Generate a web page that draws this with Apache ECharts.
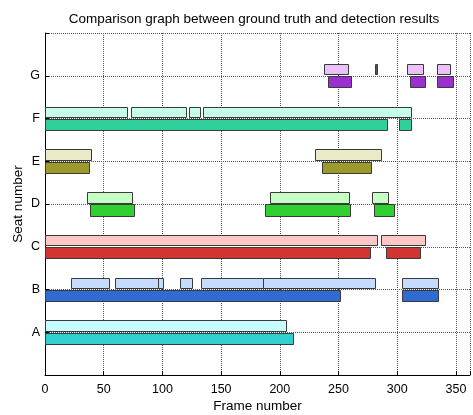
<!DOCTYPE html>
<html>
<head>
<meta charset="utf-8">
<script src="https://cdn.jsdelivr.net/npm/echarts@6/dist/echarts.min.js"></script>
<style>
  html, body { margin: 0; padding: 0; background: #fff; }
  #chart { width: 473px; height: 415px; }
</style>
</head>
<body>
<div id="chart"></div>
<script>
const seats = ['A', 'B', 'C', 'D', 'E', 'F', 'G'];
const xTicks = [0, 50, 100, 150, 200, 250, 300, 350];

// [seat index (A=1), start frame, end frame]
const groundTruth = [
  [1, 0, 205.7],
  [2, 21.9, 54.3], [2, 60, 96.3], [2, 96.3, 100.3], [2, 115, 125.6], [2, 132.5, 185.3], [2, 185.3, 281.3], [2, 304.3, 334.5],
  [3, 0, 282.5], [3, 286.2, 323.4],
  [4, 35.8, 74.5], [4, 191.8, 258.6], [4, 278.5, 292.4],
  [5, 0, 39], [5, 229.7, 286.4],
  [6, 0, 70.2], [6, 73.3, 120.5], [6, 122.5, 131.6], [6, 134.7, 311.4],
  [7, 237.8, 258.3], [7, 281, 282.5], [7, 308.6, 321.7], [7, 334.2, 344.8]
];

const detection = [
  [1, 0, 210.9],
  [2, 0, 251.2], [2, 304.3, 334.5],
  [3, 0, 276.5], [3, 290.4, 319.7],
  [4, 38.7, 76.2], [4, 187.5, 259.5], [4, 280, 297.3],
  [5, 0, 37.8], [5, 235.6, 277.4],
  [6, 0, 291], [6, 301.5, 311.4],
  [7, 241.3, 260.3], [7, 311.2, 323.4], [7, 334.2, 347.3]
];

const lightColors = ['#c6ffff', '#c6dcff', '#ffc6c6', '#c6ffc6', '#ebeac6', '#c6ffe8', '#ebc2f7'];
const darkColors = ['#2fd0d0', '#2f6bd0', '#d0352f', '#2fd02f', '#9b9a2a', '#2fd09b', '#9b2fd0'];

function makeRender(colors, top, bottom) {
  return function (params, api) {
    const seat = api.value(0);
    const p1 = api.coord([api.value(1), seat + top]);
    const p2 = api.coord([api.value(2), seat + bottom]);
    const w = Math.round(p2[0]) - Math.round(p1[0]);
    // very short segments come out as a solid dark stroke in the original
    const fill = w <= 3 ? '#555' : colors[seat - 1];
    return {
      type: 'rect',
      shape: {
        x: Math.round(p1[0]) + 0.5,
        y: Math.round(p1[1]) + 0.5,
        width: w,
        height: Math.round(p2[1]) - Math.round(p1[1])
      },
      style: { fill: fill, stroke: '#3a3a3a', lineWidth: 1 }
    };
  };
}

const font = 'Liberation Sans, Arial, sans-serif';
const dotted = { type: 'dotted', color: '#555', width: 1 };

const option = {
  animation: false,
  backgroundColor: '#fff',
  title: {
    text: 'Comparison graph between ground truth and detection results',
    left: 249,
    textAlign: 'center',
    top: 7,
    textStyle: { fontFamily: font, fontSize: 13.5, fontWeight: 'normal', color: '#000' }
  },
  grid: { left: 45, right: 3, top: 33, bottom: 40, outerBoundsMode: 'none', containLabel: false },
  xAxis: {
    type: 'value',
    min: 0,
    max: 362,
    interval: 50,
    name: 'Frame number',
    nameLocation: 'middle',
    nameGap: 24,
    nameMoveOverlap: false,
    nameTextStyle: { fontFamily: font, fontSize: 13.5, color: '#000' },
    axisLine: { lineStyle: { color: '#000' } },
    axisTick: { inside: true, length: 4, lineStyle: { color: '#000' } },
    axisLabel: {
      fontFamily: font, fontSize: 12.5, color: '#000', margin: 8,
      formatter: v => (xTicks.indexOf(v) >= 0 ? String(v) : '')
    },
    splitLine: { show: true, lineStyle: dotted }
  },
  yAxis: [{
    type: 'value',
    min: 0,
    max: 8,
    interval: 1,
    name: 'Seat number',
    nameLocation: 'middle',
    nameGap: 20,
    nameMoveOverlap: false,
    nameTextStyle: { fontFamily: font, fontSize: 13.5, color: '#000' },
    axisLine: { show: true, lineStyle: { color: '#000' } },
    axisTick: { show: true, inside: true, length: 4, lineStyle: { color: '#000' } },
    axisLabel: {
      fontFamily: font, fontSize: 12.5, color: '#000', margin: 5,
      formatter: v => (v >= 1 && v <= 7 ? seats[v - 1] : '')
    },
    splitLine: { show: true, lineStyle: dotted }
  }],
  series: [
    {
      type: 'custom',
      name: 'Ground truth',
      renderItem: makeRender(lightColors, 0.28, 0.035),
      encode: { x: [1, 2], y: 0 },
      data: groundTruth,
      z: 3
    },
    {
      type: 'custom',
      name: 'Detection',
      renderItem: makeRender(darkColors, -0.01, -0.27),
      encode: { x: [1, 2], y: 0 },
      data: detection,
      z: 3
    }
  ]
};

const chart = echarts.init(document.getElementById('chart'));
chart.setOption(option);
</script>
</body>
</html>
